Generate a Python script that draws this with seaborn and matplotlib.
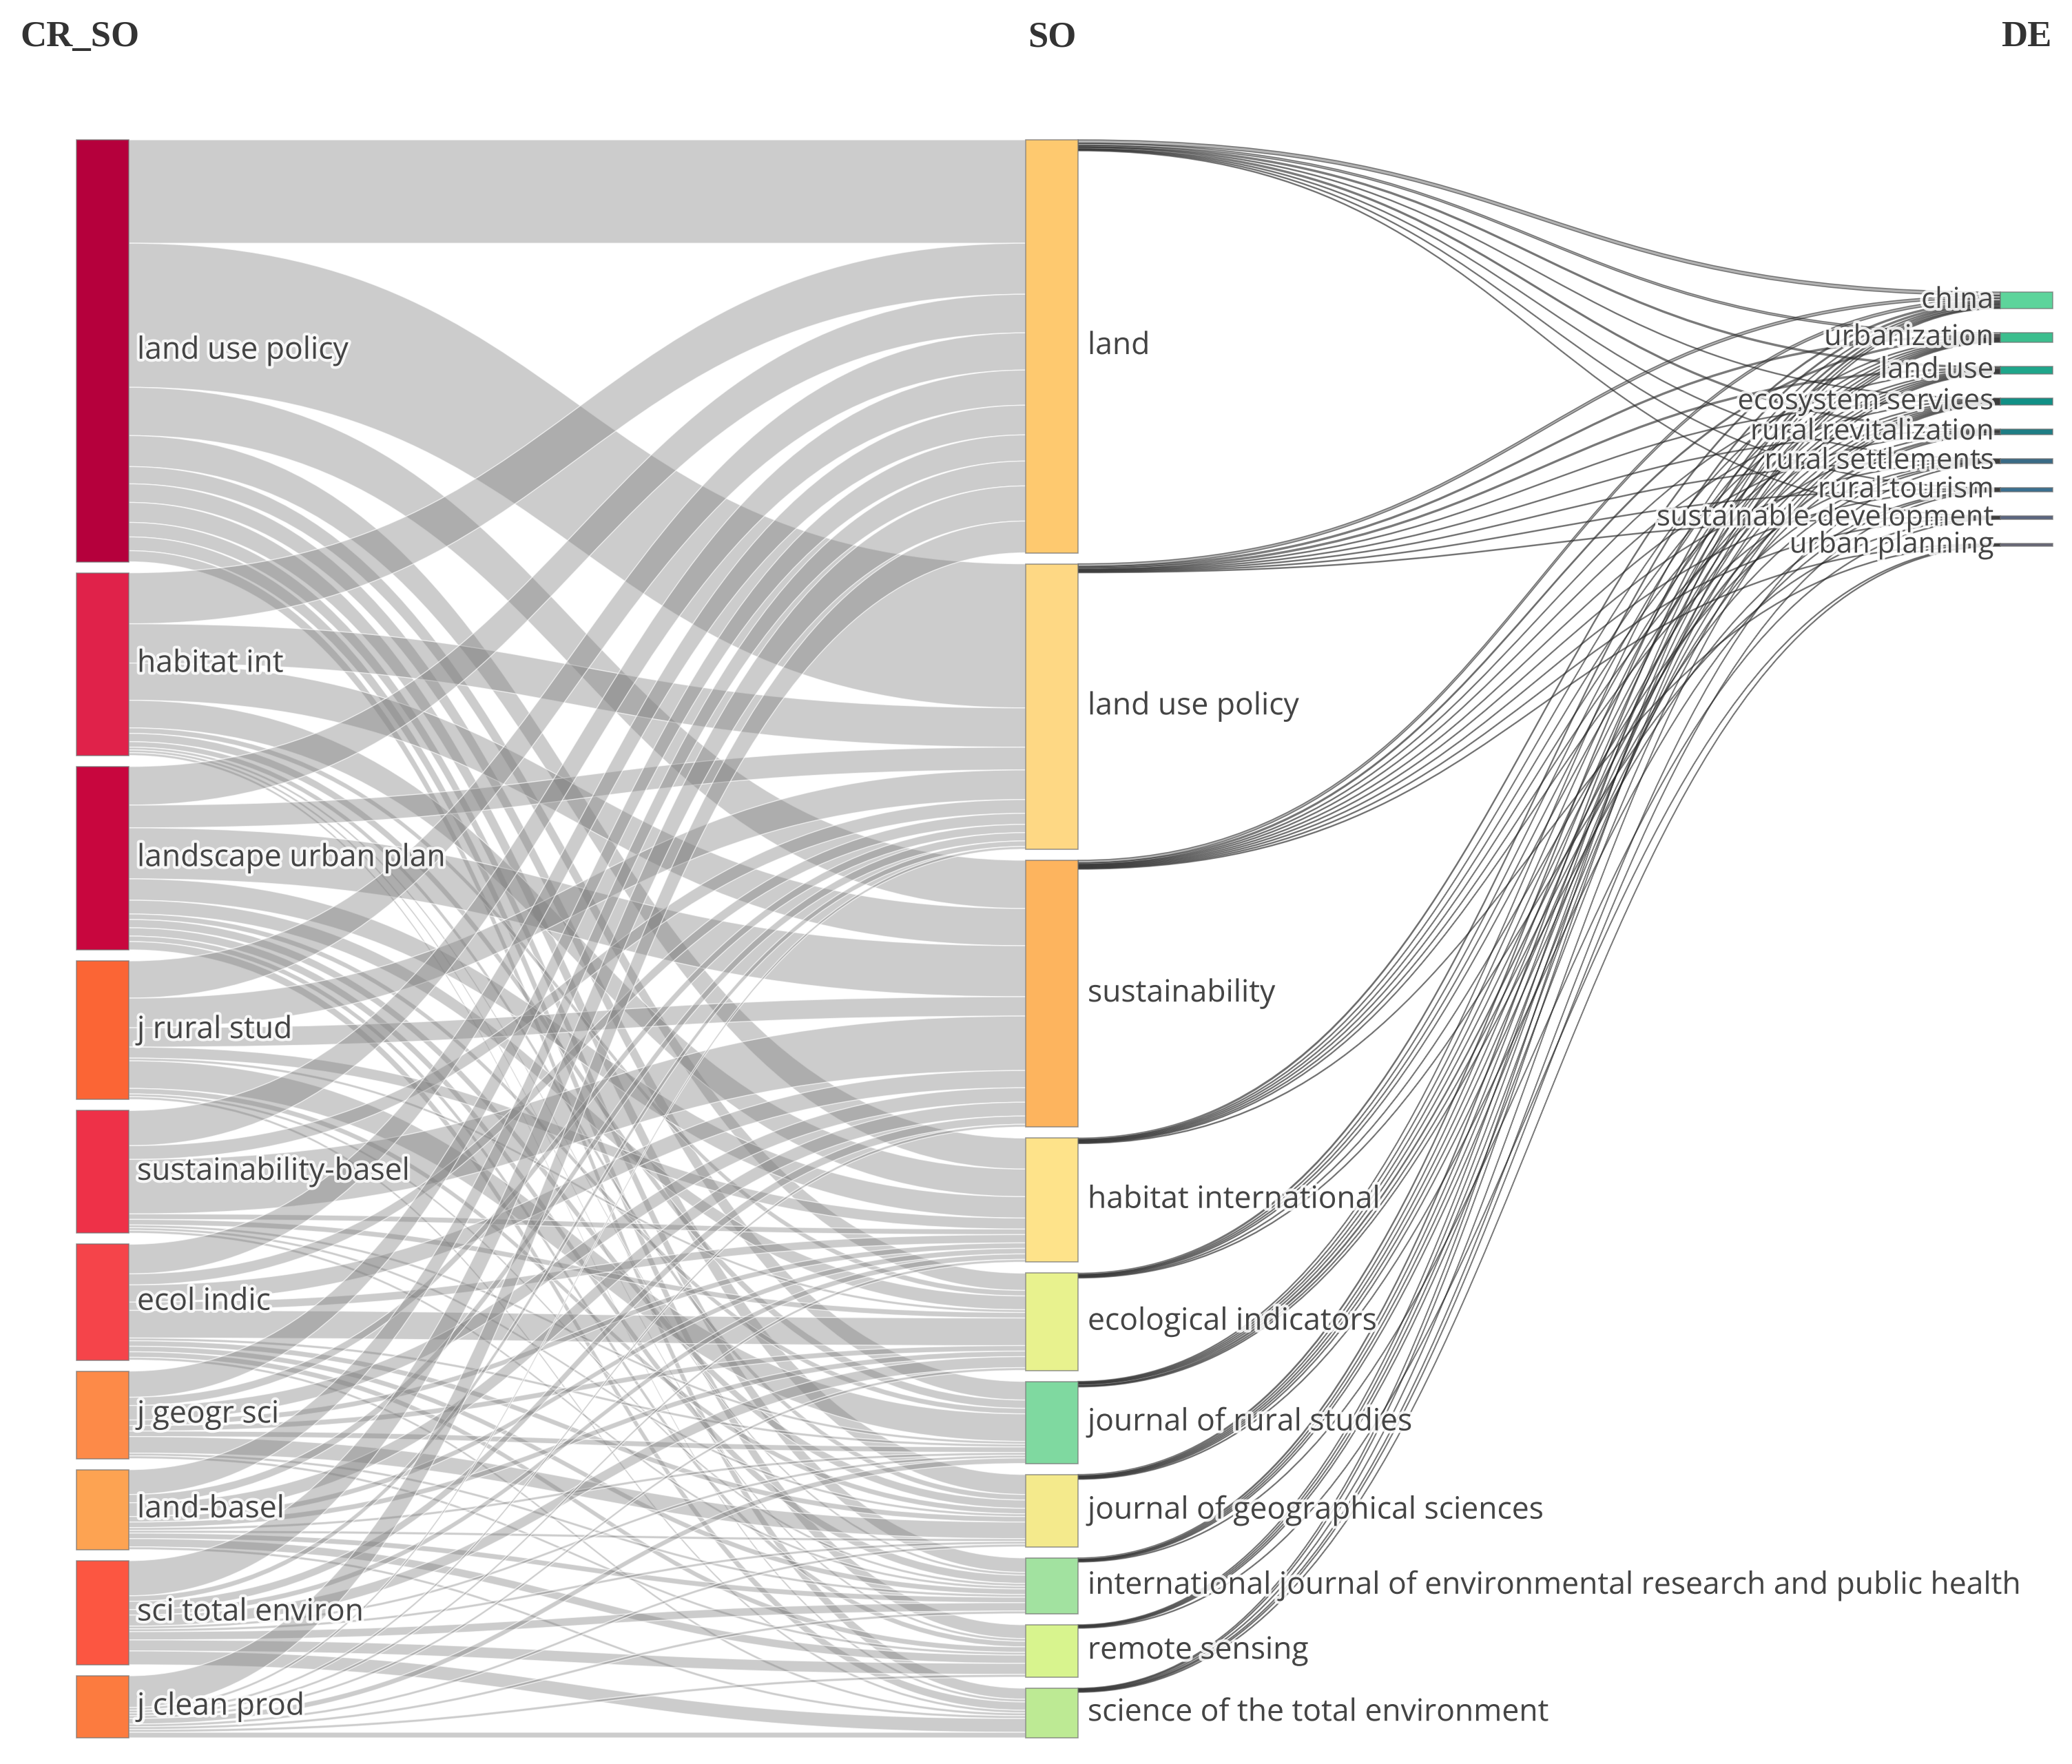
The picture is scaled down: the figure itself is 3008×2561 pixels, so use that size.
import numpy as np
import pandas as pd
import matplotlib
matplotlib.use("Agg")
import matplotlib.pyplot as plt
import matplotlib.patheffects as pe
from matplotlib.patches import Rectangle, PathPatch
from matplotlib.path import Path
import seaborn as sns

# three fields: cited sources -> sources -> author keywords
cr_so = ["land use policy", "habitat int", "landscape urban plan", "j rural stud",
         "sustainability-basel", "ecol indic", "j geogr sci", "land-basel",
         "sci total environ", "j clean prod"]
so = ["land", "land use policy", "sustainability", "habitat international",
      "ecological indicators", "journal of rural studies",
      "journal of geographical sciences",
      "international journal of environmental research and public health",
      "remote sensing", "science of the total environment"]
de = ["china", "urbanization", "land use", "ecosystem services",
      "rural revitalization", "rural settlements", "rural tourism",
      "sustainable development", "urban planning"]

# link weights CR_SO -> SO (rows cr_so, cols so)
cr_to_so = [
    [150, 209, 70, 45, 25, 27, 29, 21, 20, 16],
    [74, 57, 54, 40, 8, 12, 8, 4, 4, 4],
    [56, 33, 74, 31, 20, 8, 12, 12, 8, 12],
    [54, 43, 28, 16, 4, 40, 8, 4, 0, 4],
    [51, 20, 79, 8, 8, 4, 4, 4, 0, 0],
    [43, 16, 25, 12, 40, 4, 8, 8, 8, 4],
    [38, 12, 21, 8, 8, 8, 24, 4, 4, 0],
    [36, 12, 20, 8, 8, 4, 4, 8, 12, 4],
    [51, 8, 12, 8, 16, 4, 4, 12, 16, 20],
    [46, 4, 4, 4, 4, 8, 4, 4, 4, 8],
]

# link weights SO -> DE (rows so, cols de)
so_to_de = [
    [5, 3, 2, 1, 2, 1, 1, 1, 0],
    [4, 2, 2, 1, 1, 1, 1, 1, 0],
    [4, 2, 1, 1, 1, 1, 1, 1, 1],
    [2, 1, 1, 1, 1, 1, 0, 0, 1],
    [2, 1, 1, 1, 0, 1, 0, 1, 0],
    [1, 1, 1, 1, 2, 1, 1, 0, 0],
    [2, 1, 1, 1, 1, 0, 1, 0, 0],
    [2, 1, 1, 1, 0, 0, 0, 1, 0],
    [1, 1, 1, 1, 0, 0, 0, 0, 1],
    [1, 1, 0, 1, 0, 1, 1, 0, 1],
]

cr_colors = ["#B5003C", "#E0224A", "#C8063E", "#FB6535", "#EE3148",
             "#F5444A", "#FD8A48", "#FDA352", "#FC5641", "#FC7B3F"]
so_colors = ["#FEC96F", "#FED884", "#FDB45E", "#FEE38A", "#E8F28E",
             "#7FD9A0", "#F4EA8C", "#A2E2A0", "#D8F48E", "#BDEA94"]
de_colors = ["#5DD49B", "#3CBE8E", "#1FA68B", "#119086", "#1F7E85",
             "#3A6B86", "#3B7090", "#5A6680", "#666677"]

sns.set_theme(style="white")
plt.rcParams["font.family"] = ["Open Sans", "DejaVu Sans"]

W, H = 3008, 2561
fig = plt.figure(figsize=(W / 100, H / 100), dpi=100)
ax = fig.add_axes([0, 0, 1, 1])
ax.set_xlim(0, W)
ax.set_ylim(H, 0)
ax.axis("off")

f1 = pd.DataFrame(cr_to_so, index=cr_so, columns=so)
f2 = pd.DataFrame(so_to_de, index=so, columns=de)

# layout
top, bottom, gap = 203, 2523, 16
node_w = 76
col_x = [111, 1489, 2904]
k = (bottom - top - gap * (len(cr_so) - 1)) / f1.values.sum()

left_h = f1.sum(axis=1).values * k
mid_h = np.maximum(f1.sum(axis=0).values, f2.sum(axis=1).values) * k
de_h = f2.sum(axis=0).values * k


def stack(heights, y0, g):
    ys = []
    y = y0
    for h in heights:
        ys.append(y)
        y += h + g
    return np.array(ys)


left_y = stack(left_h, top, gap)
mid_y = stack(mid_h, top, gap)
de_y = stack(de_h, 424, 35)


def band(x0, x1, s0, s1, t0, t1, **kw):
    xm = (x0 + x1) / 2
    verts = [(x0, s0), (xm, s0), (xm, t0), (x1, t0),
             (x1, t1), (xm, t1), (xm, s1), (x0, s1), (x0, s0)]
    codes = [Path.MOVETO, Path.CURVE4, Path.CURVE4, Path.CURVE4,
             Path.LINETO, Path.CURVE4, Path.CURVE4, Path.CURVE4, Path.CLOSEPOLY]
    ax.add_patch(PathPatch(Path(verts, codes), **kw))


# CR_SO -> SO bands
src_off = left_y.copy()
tgt_in = {}
tgt_off = mid_y.copy()
for j in range(len(so)):
    for i in range(len(cr_so)):
        tgt_in[(i, j)] = tgt_off[j]
        tgt_off[j] += f1.iat[i, j] * k
for i in range(len(cr_so)):
    for j in range(len(so)):
        w = f1.iat[i, j] * k
        if w <= 0:
            continue
        s0 = src_off[i]
        t0 = tgt_in[(i, j)]
        band(col_x[0] + node_w, col_x[1], s0, s0 + w, t0, t0 + w,
             facecolor=(0.5, 0.5, 0.5, 0.4), edgecolor=(1, 1, 1, 0.7), lw=1.0)
        src_off[i] += w

# SO -> DE thin links
src_off = mid_y.copy()
tgt_off = de_y.copy()
tgt_in = {}
for j in range(len(de)):
    for i in range(len(so)):
        tgt_in[(i, j)] = tgt_off[j]
        tgt_off[j] += f2.iat[i, j] * k
for i in range(len(so)):
    for j in range(len(de)):
        w = f2.iat[i, j] * k
        if w <= 0:
            continue
        s0 = src_off[i]
        t0 = tgt_in[(i, j)]
        band(col_x[1] + node_w, col_x[2], s0, s0 + w, t0, t0 + w,
             facecolor=(0.25, 0.25, 0.25, 0.4), edgecolor=(0.15, 0.15, 0.15, 0.55), lw=1.1)
        src_off[i] += w

# nodes
for x, ys, hs, cols in [(col_x[0], left_y, left_h, cr_colors),
                        (col_x[1], mid_y, mid_h, so_colors),
                        (col_x[2], de_y, de_h, de_colors)]:
    for y, h, c in zip(ys, hs, cols):
        ax.add_patch(Rectangle((x, y), node_w, h, facecolor=c,
                               edgecolor=(0.45, 0.45, 0.45, 0.7), lw=1.2))

halo = [pe.withStroke(linewidth=6, foreground="white", alpha=0.85)]
for name, y, h in zip(cr_so, left_y, left_h):
    ax.text(col_x[0] + node_w + 12, y + h / 2, name, fontsize=32, color="#444444",
            va="center", ha="left", path_effects=halo)
for name, y, h in zip(so, mid_y, mid_h):
    ax.text(col_x[1] + node_w + 14, y + h / 2, name, fontsize=32, color="#444444",
            va="center", ha="left", path_effects=halo)
for name, y, h in zip(de, de_y, de_h):
    ax.text(col_x[2] - 10, y + h / 2, name, fontsize=30, color="#444444",
            va="center", ha="right", path_effects=halo)

# column headers
hdr = dict(fontsize=38, fontweight="bold", color="#333333", va="center",
           family=["Liberation Serif", "DejaVu Serif"])
ax.text(29, 54, "CR_SO", ha="left", **hdr)
ax.text(col_x[1] + node_w / 2, 54, "SO", ha="center", **hdr)
ax.text(2978, 54, "DE", ha="right", **hdr)

fig.savefig("out.png", dpi=100, facecolor="white")
